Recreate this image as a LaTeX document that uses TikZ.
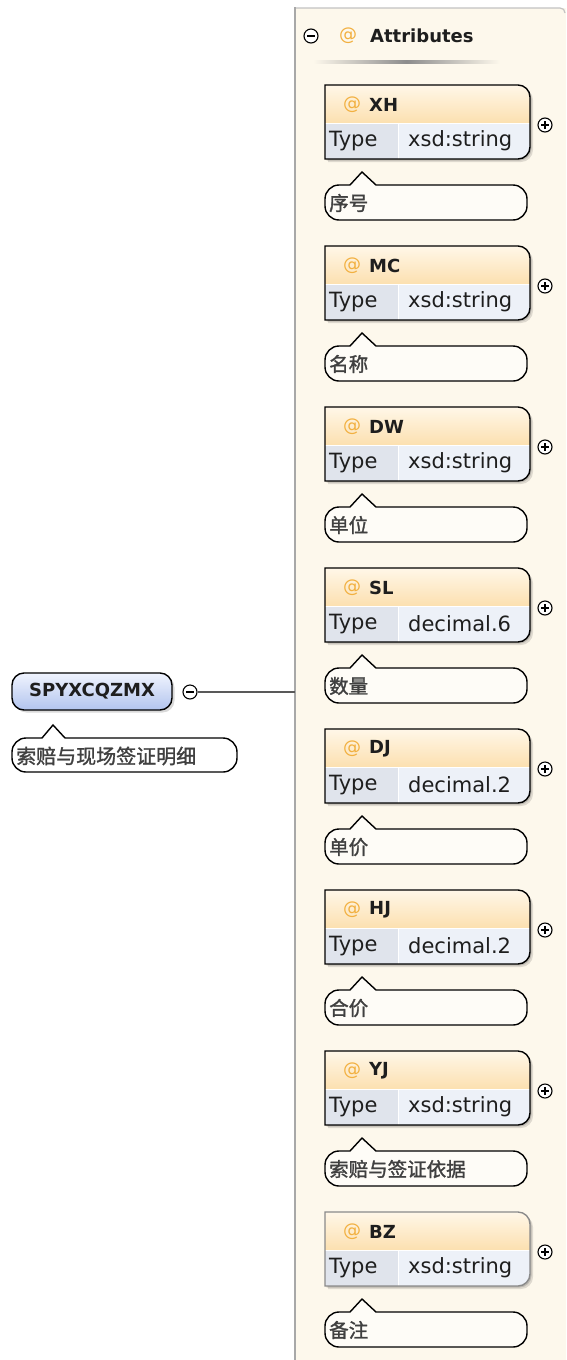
\documentclass[tikz,border=0pt]{standalone}
\usepackage{fontspec}
\setmainfont{DejaVu Sans}
\newfontfamily\cjk{Noto Sans CJK SC}[FakeBold=1.5]
\definecolor{panelbg}{HTML}{FDF8EC}
\definecolor{panelline}{HTML}{A8A8A8}
\definecolor{hdrtop}{HTML}{FFF7E8}
\definecolor{hdrbot}{HTML}{FCE0B0}
\definecolor{typecell}{HTML}{E0E4EC}
\definecolor{valcell}{HTML}{EDF1F8}
\definecolor{atorange}{HTML}{F2B040}
\definecolor{txt}{HTML}{1E1E1E}
\definecolor{pilltop}{HTML}{F0F4FE}
\definecolor{pillbot}{HTML}{B2C4EE}
\definecolor{optline}{HTML}{8A8A8A}
\tikzset{
  boxtext/.style={inner sep=0pt, text=txt, font=\fontsize{21}{23}\selectfont},
  boxname/.style={inner sep=0pt, text=txt, font=\fontsize{18}{20}\selectfont\bfseries},
  attext/.style={inner sep=0pt, text=atorange, font=\fontsize{18}{20}\selectfont},
  cmttext/.style={inner sep=0pt, text=txt!85, font=\fontsize{19.5}{21}\cjk},
  pm/.style={circle, draw=black, fill=white, line width=1.1pt, minimum size=14pt, inner sep=0pt},
  boxborder/.style={line width=1.4pt},
  bubble/.style={draw=black, line width=1.4pt, fill=panelbg!40!white},
}
\newcommand\BoxPath[1]{(325,#1) -- (518,#1) .. controls (524.6,#1) and (530,{#1+5.4}) .. (530,{#1+12}) -- (530,{#1+62}) .. controls (530,{#1+68.6}) and (524.6,{#1+74}) .. (518,{#1+74}) -- (325,{#1+74}) -- cycle}
\newcommand\AttrBox[6]{%
  % #1 top y, #2 name, #3 type, #4 comment, #5 border colour, #6 id
  \fill[black,opacity=0.12,shift={(3,3)}] \BoxPath{#1};
  \fill[black,opacity=0.15,shift={(1.5,1.5)}] \BoxPath{#1};
  \begin{scope}
    \clip \BoxPath{#1};
    \shade[top color=hdrtop,bottom color=hdrbot] (325,#1) rectangle (530,{#1+38});
    \fill[typecell] (325,{#1+38}) rectangle (398,{#1+74});
    \fill[valcell] (398,{#1+38}) rectangle (530,{#1+74});
    \draw[white,line width=1pt] (325,{#1+38}) -- (530,{#1+38});
    \draw[white,line width=1pt] (398,{#1+38}) -- (398,{#1+74});
  \end{scope}
  \draw[boxborder,draw=#5] \BoxPath{#1};
  \node[attext] (#6at) at (352,{#1+20}) {@};
  \node[boxname,anchor=west] (#6name) at (369,{#1+20}) {#2};
  \node[boxtext,anchor=west] (#6type) at (329,{#1+56}) {Type};
  \node[boxtext,anchor=west] (#6val) at (408,{#1+56}) {#3};
  \node[pm] (#6plus) at (545,{#1+40}) {};
  \draw[line width=1.1pt] ([xshift=-4pt]#6plus.center) -- ([xshift=4pt]#6plus.center)
        ([yshift=-4pt]#6plus.center) -- ([yshift=4pt]#6plus.center);
  \draw[bubble] (339,{#1+100}) -- (350,{#1+100}) -- (362,{#1+87}) -- (376,{#1+100}) -- (513,{#1+100})
     .. controls (520.7,{#1+100}) and (527,{#1+106.3}) .. (527,{#1+114}) -- (527,{#1+121})
     .. controls (527,{#1+128.7}) and (520.7,{#1+135}) .. (513,{#1+135}) -- (339,{#1+135})
     .. controls (331.3,{#1+135}) and (325,{#1+128.7}) .. (325,{#1+121}) -- (325,{#1+114})
     .. controls (325,{#1+106.3}) and (331.3,{#1+100}) .. (339,{#1+100}) -- cycle;
  \node[cmttext,anchor=west] (#6cmt) at (329,{#1+118}) {#4};
}
\begin{document}
\begin{tikzpicture}[x=1pt,y=-1pt]
\useasboundingbox (0,0) rectangle (566,1360);
\fill[white] (0,0) rectangle (566,1360);
% panel
\fill[panelbg] (295,8) rectangle (566,1360);
\draw[panelline!70,line width=1.2pt] (295,8) -- (560,8) .. controls (563,8) and (565,10) .. (565,13);
\draw[panelline,line width=2.6pt] (295,7) -- (295,1360);
% Attributes header
\node[pm] (attminus) at (311,36) {};
\draw[line width=1.1pt] ([xshift=-4pt]attminus.center) -- ([xshift=4pt]attminus.center);
\node[attext] (attat) at (348,36) {@};
\node[boxname,anchor=west] (atttitle) at (370,36) {Attributes};
\shade[left color=panelbg,right color=panelbg,middle color=black!45] (313,60.8) rectangle (500,63.5);
% attribute boxes
\AttrBox{85}{XH}{xsd:string}{序号}{black}{xh}
\AttrBox{246}{MC}{xsd:string}{名称}{black}{mc}
\AttrBox{407}{DW}{xsd:string}{单位}{black}{dw}
\AttrBox{568}{SL}{decimal.6}{数量}{black}{sl}
\AttrBox{729}{DJ}{decimal.2}{单价}{black}{dj}
\AttrBox{890}{HJ}{decimal.2}{合价}{black}{hj}
\AttrBox{1051}{YJ}{xsd:string}{索赔与签证依据}{black}{yj}
\AttrBox{1212}{BZ}{xsd:string}{备注}{optline}{bz}
% root element
\fill[black,opacity=0.15,rounded corners=12pt] (14.5,675.5) rectangle (174.5,712.5);
\shade[top color=pilltop,bottom color=pillbot,rounded corners=12pt] (12,673) rectangle (172,710);
\draw[line width=1.4pt,rounded corners=12pt] (12,673) rectangle (172,710);
\node[boxname] (root) at (92,691) {SPYXCQZMX};
\node[pm] (rootminus) at (190,692) {};
\draw[line width=1.1pt] ([xshift=-4pt]rootminus.center) -- ([xshift=4pt]rootminus.center);
\coordinate (panelL) at (295,692);
\draw[black!65,line width=1.8pt] (rootminus.east) -- (panelL);
\draw[bubble,fill=white] (26,738) -- (42,738) -- (53,725) -- (65,738) -- (223,738)
   .. controls (230.7,738) and (237,744.3) .. (237,752) -- (237,758)
   .. controls (237,765.7) and (230.7,772) .. (223,772) -- (26,772)
   .. controls (18.3,772) and (12,765.7) .. (12,758) -- (12,752)
   .. controls (12,744.3) and (18.3,738) .. (26,738) -- cycle;
\node[cmttext,anchor=west,font=\fontsize{20}{22}\cjk] (rootcmt) at (16,756) {索赔与现场签证明细};
\end{tikzpicture}
\end{document}
